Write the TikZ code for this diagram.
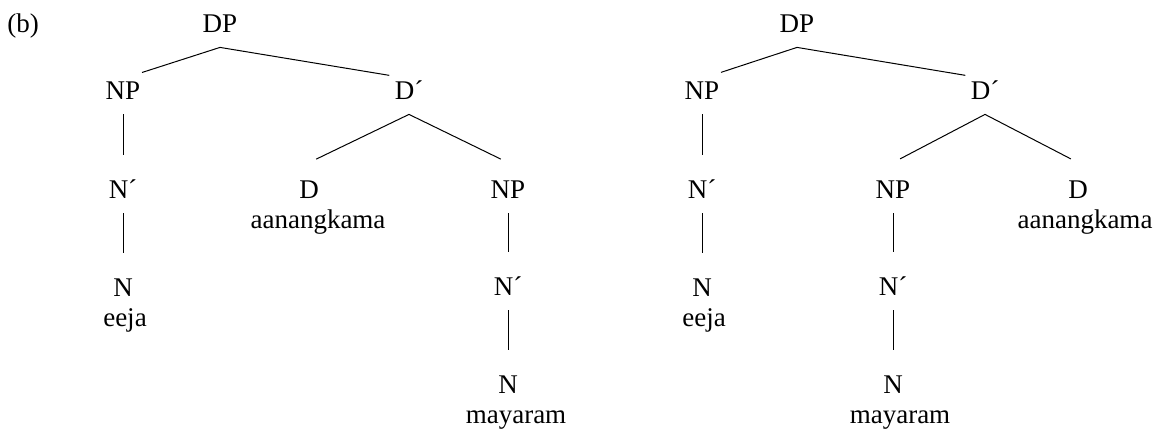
\documentclass[tikz,border=0pt]{standalone}
\usepackage{fontspec}
\setmainfont{Liberation Serif}
\usetikzlibrary{positioning}

\tikzset{
    cat/.style={inner sep=0pt, text height=10pt, text depth=7.5pt, anchor=base},
    deep/.style={cat, text height=17.5pt},
    gloss/.style={inner sep=0pt, anchor=base},
    branch/.style={draw, line width=0.5pt}
}

\begin{document}
\begin{tikzpicture}[x=0.5pt, y=-0.5pt, font=\fontsize{13.5}{15}\selectfont]
    \useasboundingbox (0,0) rectangle (1158,435);
    \node [gloss] (lbl) at (23,32) {(b)};

    % Nodes, left tree {DP, NP, D', D, NP, ...}
    \node [cat]  (dpA)   at (220,32)  {DP};
    \node [cat]  (npA)   at (123,99)  {NP};
    \node [cat]  (dbA)   at (409,99)  {D´};
    \node [deep] (dA)    at (309,198) {D};
    \node [deep] (npAA)  at (508,198) {NP};
    \node [deep] (nbA)   [below=49.5pt of npA.base, anchor=base]  {N´};
    \node [deep] (nA)    [below=49pt of nbA.base, anchor=base]    {N};
    \node [deep] (nbAA)  [below=48.5pt of npAA.base, anchor=base] {N´};
    \node [deep] (nAA)   [below=49pt of nbAA.base, anchor=base]   {N};

    \node [gloss] (glA1) [below=15pt of dA.base, anchor=base, xshift=4.5pt]  {aanangkama};
    \node [gloss] (glA2) [below=15pt of nA.base, anchor=base, xshift=1pt]    {eeja};
    \node [gloss] (glA3) [below=15pt of nAA.base, anchor=base, xshift=4pt]   {mayaram};

    % Nodes, right tree
    \node [cat]  (dpB)   at (797,32)  {DP};
    \node [cat]  (npB)   at (702,99)  {NP};
    \node [cat]  (dbB)   at (985,99)  {D´};
    \node [deep] (npBB)  at (893,198) {NP};
    \node [deep] (dB)    at (1078,198) {D};
    \node [deep] (nbB)   [below=49.5pt of npB.base, anchor=base]  {N´};
    \node [deep] (nB)    [below=49pt of nbB.base, anchor=base]    {N};
    \node [deep] (nbBB)  [below=48.5pt of npBB.base, anchor=base] {N´};
    \node [deep] (nBB)   [below=49pt of nbBB.base, anchor=base]   {N};

    \node [gloss] (glB1) [below=15pt of dB.base, anchor=base, xshift=3.5pt] {aanangkama};
    \node [gloss] (glB2) [below=15pt of nB.base, anchor=base, xshift=1pt]   {eeja};
    \node [gloss] (glB3) [below=15pt of nBB.base, anchor=base, xshift=3.5pt] {mayaram};

    % Branches, left tree
    \path [branch, shorten >=10pt] (dpA.south) edge (npA.north);
    \path [branch, shorten >=10pt] (dpA.south) edge (dbA.north);
    \path [branch, shorten >=4pt]  (npA.south) edge (nbA.north);
    \path [branch, shorten >=4pt]  (nbA.south) edge (nA.north);
    \path [branch, shorten >=4pt]  (dbA.south) edge (dA.north);
    \path [branch, shorten >=4pt]  (dbA.south) edge (npAA.north);
    \path [branch, shorten >=4pt]  (npAA.south) edge (nbAA.north);
    \path [branch, shorten >=4pt]  (nbAA.south) edge (nAA.north);

    % Branches, right tree
    \path [branch, shorten >=10pt] (dpB.south) edge (npB.north);
    \path [branch, shorten >=10pt] (dpB.south) edge (dbB.north);
    \path [branch, shorten >=4pt]  (npB.south) edge (nbB.north);
    \path [branch, shorten >=4pt]  (nbB.south) edge (nB.north);
    \path [branch, shorten >=4pt]  (dbB.south) edge (npBB.north);
    \path [branch, shorten >=4pt]  (dbB.south) edge (dB.north);
    \path [branch, shorten >=4pt]  (npBB.south) edge (nbBB.north);
    \path [branch, shorten >=4pt]  (nbBB.south) edge (nBB.north);
\end{tikzpicture}
\end{document}
